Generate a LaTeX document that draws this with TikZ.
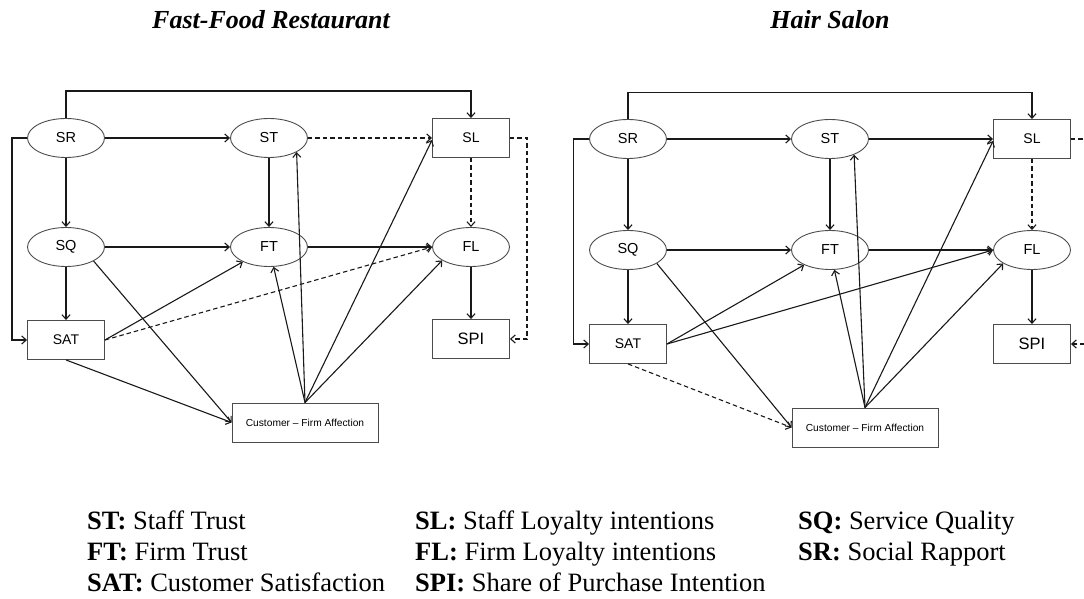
\documentclass[tikz,border=0pt]{standalone}
\usepackage{fontspec}
\setmainfont{Liberation Serif}
\setsansfont{Liberation Sans}
\usetikzlibrary{arrows.meta,shapes.geometric}

\tikzset{
  construct/.style={ellipse, draw=black!70, line width=0.9bp, minimum width=77bp,
    minimum height=39bp, inner sep=0pt, font=\sffamily\fontsize{14.5bp}{16bp}\selectfont},
  measure/.style={rectangle, draw=black!70, line width=0.9bp, minimum width=77bp,
    minimum height=39bp, inner sep=0pt, font=\sffamily\fontsize{14bp}{16bp}\selectfont},
  outcome/.style={measure, font=\sffamily\fontsize{16.5bp}{18bp}\selectfont},
  affect/.style={measure, minimum width=146bp, font=\sffamily\fontsize{10.2bp}{12bp}\selectfont},
  link/.style={draw=black!90, line width=1.1bp, -{Straight Barb[length=4.5bp,width=8bp]}},
  weak/.style={link, dash pattern=on 4.5bp off 3bp},
  panel title/.style={font=\bfseries\itshape\fontsize{26bp}{30bp}\selectfont, anchor=base, inner sep=0pt},
  key/.style={font=\fontsize{26.5bp}{30bp}\selectfont, anchor=base west, inner sep=0pt},
}

\begin{document}
\begin{tikzpicture}[x=1bp, y=-1bp]
\useasboundingbox (0,0) rectangle (1084,599);
\clip (0,0) rectangle (1084,599);

% panel titles
\node[panel title] (tfast) at (271,29) {Fast-Food Restaurant};
\node[panel title] (thair) at (830,29) {Hair Salon};

% ---------------- fast-food model ----------------
\node[construct] (LSR) at (66,138) {SR};
\node[construct] (LST) at (269,138) {ST};
\node[measure]   (LSL) at (471,138) {SL};
\node[construct] (LSQ) at (66,247) {SQ};
\node[construct] (LFT) at (269,247) {FT};
\node[construct] (LFL) at (471,247) {FL};
\node[measure]   (LSAT) at (66,340) {SAT};
\node[outcome]   (LSPI) at (471,339) {SPI};
\node[affect]    (LCFA) at (305,422.5) {Customer – Firm Affection};

\draw[link] (LSR.north) -- ++(0,-27) -| (LSL.north);
\draw[link] (LSR.west) -- ++(-15,0) |- (LSAT.west);
\draw[link] (LSR) -- (LST);
\draw[weak] (LST) -- (LSL);
\draw[link] (LSR) -- (LSQ);
\draw[link] (LST) -- (LFT);
\draw[weak] (LSL) -- (LFL);
\draw[link] (LSQ) -- (LFT);
\draw[link] (LFT) -- (LFL);
\draw[link] (LSQ) -- (LSAT);
\draw[link] (LFL) -- (LSPI);
\draw[weak] (LSL.east) -- ++(17,0) |- (LSPI.east);
\draw[link] (LSAT.east) -- (LFT);
\draw[weak] (LSAT.east) -- (LFL.west);
\draw[link] (LSAT.south) -- (LCFA.west);
\draw[link] (LSQ.-27) -- (LCFA.west);
\draw[link] (LCFA.north) -- (LST.-27);
\draw[link] (LCFA.north) -- (LFT);
\draw[link] (LCFA.north) -- ([yshift=-2bp]LSL.west);
\draw[link] (LCFA.north) -- (LFL.205);

% ---------------- hair salon model ----------------
\node[construct] (RSR) at (628,139) {SR};
\node[construct] (RST) at (830,139) {ST};
\node[measure]   (RSL) at (1032,139) {SL};
\node[construct] (RSQ) at (628,250) {SQ};
\node[construct] (RFT) at (830,250) {FT};
\node[construct] (RFL) at (1032,250) {FL};
\node[measure]   (RSAT) at (628,344) {SAT};
\node[outcome]   (RSPI) at (1032,344) {SPI};
\node[affect]    (RCFA) at (865,427.5) {Customer – Firm Affection};

\draw[link] (RSR.north) -- ++(0,-26.5) -| (RSL.north);
\draw[link] (RSR.west) -- ++(-16,0) |- (RSAT.west);
\draw[link] (RSR) -- (RST);
\draw[link] (RST) -- (RSL);
\draw[link] (RSR) -- (RSQ);
\draw[link] (RST) -- (RFT);
\draw[weak] (RSL) -- (RFL);
\draw[link] (RSQ) -- (RFT);
\draw[link] (RFT) -- (RFL);
\draw[link] (RSQ) -- (RSAT);
\draw[link] (RFL) -- (RSPI);
\draw[weak] (RSL.east) -- ++(17,0) |- (RSPI.east);
\draw[link] (RSAT.east) -- (RFT);
\draw[link] (RSAT.east) -- (RFL.west);
\draw[weak] (RSAT.south) -- (RCFA.west);
\draw[link] (RSQ.-25) -- (RCFA.west);
\draw[link] (RCFA.north) -- (RST.-33);
\draw[link] (RCFA.north) -- (RFT);
\draw[link] (RCFA.north) -- ([yshift=-2bp]RSL.west);
\draw[link] (RCFA.north) -- (RFL.205);

% ---------------- abbreviations ----------------
\node[key] (kst)  at (87,529) {\textbf{ST:} Staff Trust};
\node[key] (kft)  at (87,560) {\textbf{FT:} Firm Trust};
\node[key] (ksat) at (87,591) {\textbf{SAT:} Customer Satisfaction};
\node[key] (ksl)  at (415,529) {\textbf{SL:} Staff Loyalty intentions};
\node[key] (kfl)  at (415,560) {\textbf{FL:} Firm Loyalty intentions};
\node[key] (kspi) at (415,591) {\textbf{SPI:} Share of Purchase Intention};
\node[key] (ksq)  at (798,529) {\textbf{SQ:} Service Quality};
\node[key] (ksr)  at (798,560) {\textbf{SR:} Social Rapport};
\end{tikzpicture}
\end{document}
